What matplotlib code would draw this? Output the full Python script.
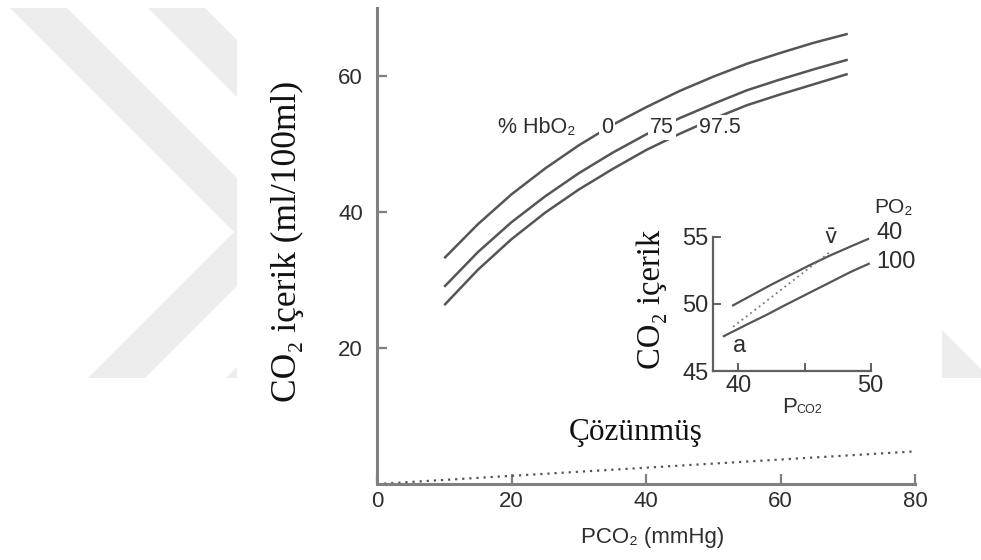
import matplotlib
matplotlib.use('Agg')
import matplotlib.pyplot as plt
from matplotlib.patches import Polygon, Rectangle
import matplotlib.transforms as mtransforms

# main chart data: CO2 content vs PCO2 for three HbO2 saturations
pco2 = [10, 15, 20, 25, 30, 35, 40, 45, 50, 55, 60, 65, 70]
hbo2_0 = [33.2, 38.2, 42.6, 46.4, 49.8, 52.8, 55.4, 57.8, 59.9, 61.8, 63.4, 64.9, 66.2]
hbo2_75 = [29.0, 34.1, 38.5, 42.3, 45.7, 48.7, 51.4, 53.8, 55.9, 57.9, 59.5, 61.0, 62.4]
hbo2_975 = [26.3, 31.5, 36.0, 39.9, 43.3, 46.3, 49.1, 51.5, 53.7, 55.7, 57.3, 58.8, 60.3]
hbo2_labels = ['0', '75', '97.5']
hbo2_label_x = [34.2, 42.4, 51.0]

# dissolved CO2 (dotted)
dis_x = [0, 80]
dis_y = [0, 4.8]

# inset: PO2 40 and 100 curves
in_x40 = [39.6, 41.0, 42.5, 44.0, 45.5, 47.0, 48.5, 49.8]
in_y40 = [49.9, 50.65, 51.45, 52.2, 52.95, 53.65, 54.3, 54.85]
in_x100 = [38.9, 40.5, 42.15, 43.5, 44.7, 46.0, 47.2, 48.5, 49.85]
in_y100 = [47.6, 48.4, 49.2, 49.9, 50.5, 51.15, 51.75, 52.4, 53.0]
av_x = [39.6, 46.95]
av_y = [48.3, 53.9]

line_col = '#555555'
txt_col = '#2e2e2e'
sans = ['Liberation Sans', 'DejaVu Sans']
serif = ['Liberation Serif', 'DejaVu Serif']

fig = plt.figure(figsize=(9.81, 5.6), dpi=100)

# watermark in the background (pixel coords)
bg = fig.add_axes([0, 0, 1, 1], zorder=-10)
bg.set_xlim(0, 981)
bg.set_ylim(560, 0)
bg.axis('off')
wm = '#ededed'
for dx in [0, 138]:
    pts = [(10 + dx, 8), (67 + dx, 8), (291 + dx, 232), (145 + dx, 378),
           (88 + dx, 378), (234 + dx, 232)]
    bg.add_patch(Polygon(pts, closed=True, fc=wm, ec='none'))
bg.add_patch(Polygon([(942, 330), (981, 369), (981, 378), (942, 378)], closed=True, fc=wm, ec='none'))
bg.add_patch(Rectangle((237, 0), 705, 560, fc='white', ec='none'))

# main axes
ax = fig.add_axes([377 / 981, 1 - 484 / 560, 538 / 981, 476 / 560])
ax.patch.set_alpha(0)
ax.set_xlim(0, 80)
ax.set_ylim(0, 70)
for s in ['top', 'right']:
    ax.spines[s].set_visible(False)
for s in ['left', 'bottom']:
    ax.spines[s].set_color('#808080')
    ax.spines[s].set_linewidth(2.2)
ax.set_xticks([0, 20, 40, 60, 80])
ax.set_yticks([20, 40, 60])
ax.tick_params(direction='in', length=7, width=1.6, color='#808080',
               labelsize=16, labelcolor=txt_col)
ax.tick_params(axis='y', pad=10)
ax.tick_params(axis='x', pad=5)
for lab in ax.get_xticklabels() + ax.get_yticklabels():
    lab.set_family(sans)

for ys in [hbo2_0, hbo2_75, hbo2_975]:
    ax.plot(pco2, ys, color=line_col, lw=1.8, solid_capstyle='butt', solid_joinstyle='round')
ax.plot(dis_x, dis_y, color=line_col, lw=1.6, linestyle=(0, (1, 2.2)))

ax.text(23.8, 52.4, '% HbO\u2082', family=sans, fontsize=15.5, color=txt_col,
        ha='center', va='center', bbox=dict(fc='white', ec='none', pad=1))
for lab, lx in zip(hbo2_labels, hbo2_label_x):
    ax.text(lx, 52.4, lab, family=sans, fontsize=15.5, color=txt_col,
            ha='center', va='center', bbox=dict(fc='white', ec='none', pad=1.5))

ax.text(38.4, 7.6, 'Çözünmüş', family=serif, fontsize=22.5, color='#111111',
        ha='center', va='center')

fig.text(287.5 / 981, 1 - 241.5 / 560, 'CO\u2082 içerik (ml/100ml)', family=serif,
         fontsize=25.5, color='#111111', rotation=90, ha='center', va='center')
fig.text(652.5 / 981, 1 - 538 / 560, 'PCO\u2082 (mmHg)', family=sans,
         fontsize=16, color=txt_col, ha='center', va='center')

# inset
axi = fig.add_axes([712.7 / 981, 1 - 371 / 560, 158 / 981, 134 / 560])
axi.patch.set_alpha(0)
axi.set_xlim(38.06, 50)
axi.set_ylim(45, 55)
for s in ['top', 'right']:
    axi.spines[s].set_visible(False)
for s in ['left', 'bottom']:
    axi.spines[s].set_color('#606060')
    axi.spines[s].set_linewidth(1.6)
axi.set_xticks([40, 45, 50])
axi.set_xticklabels(['40', '', '50'])
axi.set_yticks([45, 50, 55])
axi.tick_params(direction='in', length=6, width=1.4, color='#606060',
                labelsize=17, labelcolor=txt_col, pad=3)
for lab in axi.get_xticklabels() + axi.get_yticklabels():
    lab.set_family(sans)

axi.plot(in_x40, in_y40, color=line_col, lw=1.6, solid_joinstyle='round')
axi.plot(in_x100, in_y100, color=line_col, lw=1.6, solid_joinstyle='round')
axi.plot(av_x, av_y, color='#777777', lw=1.3, linestyle=(0, (1, 2)))

axi.text(40.1, 46.9, 'a', family=sans, fontsize=17, color=txt_col, ha='center', va='center')
axi.text(46.95, 55.0, 'v\u0304', family='DejaVu Sans', fontsize=15, color=txt_col,
         ha='center', va='center', clip_on=False)
axi.text(50.45, 55.3, '40', family=sans, fontsize=17, color=txt_col, ha='left', va='center', clip_on=False)
axi.text(50.45, 53.1, '100', family=sans, fontsize=17, color=txt_col, ha='left', va='center', clip_on=False)
axi.text(50.3, 57.2, 'PO\u2082', family=sans, fontsize=15, color=txt_col, ha='left', va='center', clip_on=False)

axi.text(43.3, 42.3, 'P', family=sans, fontsize=16, color=txt_col, ha='left', va='center')
off = mtransforms.offset_copy(axi.transData, fig=fig, x=10, y=-2, units='points')
axi.text(43.3, 42.3, 'CO2', family=sans, fontsize=9, color=txt_col, ha='left', va='center', transform=off)

fig.text(651.5 / 981, 1 - 299 / 560, 'CO\u2082 içerik', family=serif,
         fontsize=23.5, color='#111111', rotation=90, ha='center', va='center')

fig.savefig('out.png', dpi=100)
